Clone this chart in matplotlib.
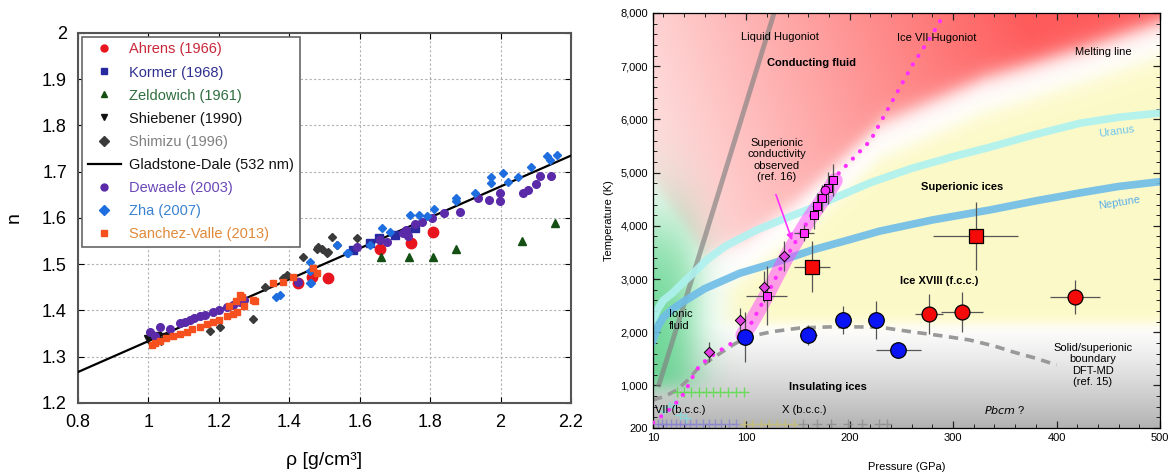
import numpy as np
import matplotlib.pyplot as plt
from matplotlib.lines import Line2D

plt.rcParams['font.family'] = ['Liberation Sans', 'DejaVu Sans']

# ---------------- left panel: refractive index vs density ----------------
ahrens_rho = [1.426, 1.464, 1.509, 1.658, 1.746, 1.807]
ahrens_n = [1.460, 1.472, 1.470, 1.534, 1.547, 1.570]

kormer_rho = [1.581, 1.630, 1.655, 1.700, 1.735, 1.757]
kormer_n = [1.530, 1.545, 1.556, 1.563, 1.570, 1.578]

zeld_rho = [1.660, 1.741, 1.807, 1.874, 2.060, 2.155]
zeld_n = [1.516, 1.516, 1.516, 1.534, 1.550, 1.590]

shieb_rho = [0.998, 1.023, 1.035, 1.047]
shieb_n = [1.338, 1.345, 1.335, 1.343]

shimizu_rho = [1.175, 1.203, 1.298, 1.331, 1.383, 1.393, 1.440, 1.478, 1.506,
               1.535, 1.482, 1.492, 1.511, 1.520, 1.593]
shimizu_n = [1.356, 1.364, 1.382, 1.450, 1.470, 1.477, 1.516, 1.532, 1.525,
             1.542, 1.538, 1.534, 1.527, 1.558, 1.556]

gd_rho = [0.8, 2.2]
gd_n = [1.267, 1.735]

dewaele_rho = [1.005, 1.020, 1.033, 1.060, 1.090, 1.105, 1.118, 1.130, 1.146, 1.160,
               1.184, 1.200, 1.222, 1.240, 1.260, 1.270, 1.426, 1.591, 1.658, 1.677,
               1.724, 1.738, 1.732, 1.757, 1.776, 1.804, 1.838, 1.885, 1.937, 1.968,
               1.997, 1.997, 2.063, 2.079, 2.100, 2.112, 2.142]
dewaele_n = [1.354, 1.345, 1.364, 1.360, 1.372, 1.375, 1.379, 1.383, 1.388, 1.390,
             1.397, 1.400, 1.407, 1.412, 1.419, 1.422, 1.462, 1.538, 1.552, 1.549,
             1.567, 1.560, 1.573, 1.588, 1.592, 1.599, 1.610, 1.614, 1.644, 1.639,
             1.655, 1.637, 1.653, 1.660, 1.674, 1.691, 1.691]

zha_rho = [1.362, 1.374, 1.459, 1.459, 1.461, 1.459, 1.535, 1.565, 1.568, 1.630,
           1.662, 1.686, 1.743, 1.767, 1.790, 1.811, 1.873, 1.873, 1.927, 1.972,
           1.972, 2.006, 2.022, 2.050, 2.086, 2.131, 2.159, 2.140]
zha_n = [1.430, 1.434, 1.486, 1.460, 1.459, 1.505, 1.542, 1.525, 1.524, 1.542,
         1.578, 1.570, 1.607, 1.607, 1.604, 1.619, 1.644, 1.636, 1.655, 1.689,
         1.675, 1.697, 1.678, 1.689, 1.711, 1.735, 1.736, 1.725]

sv_rho = [1.009, 1.020, 1.033, 1.050, 1.071, 1.090, 1.109, 1.125, 1.146, 1.165,
          1.184, 1.200, 1.222, 1.230, 1.240, 1.250, 1.251, 1.260, 1.265, 1.270,
          1.298, 1.303, 1.355, 1.383, 1.411, 1.468, 1.478]
sv_n = [1.325, 1.330, 1.333, 1.340, 1.345, 1.350, 1.354, 1.360, 1.365, 1.370,
        1.376, 1.380, 1.388, 1.410, 1.392, 1.420, 1.397, 1.434, 1.430, 1.410,
        1.423, 1.421, 1.459, 1.462, 1.473, 1.491, 1.480]

# ---------------- right panel: water phase diagram ----------------
blue_P = [99, 160, 193.5, 225, 247]
blue_T = [1911, 1950, 2230, 2230, 1666]
blue_Perr = [3, 8, 4, 4, 22]
blue_Terr = [470, 190, 270, 360, 90]

redc_P = [276.7, 308.5, 417.7]
redc_T = [2343, 2380, 2663]
redc_Perr = [14, 20, 24]
redc_Terr = [380, 380, 320]

reds_P = [163.6, 322]
reds_T = [3227, 3810]
reds_Perr = [17, 41]
reds_Terr = [480, 640]

msq_P = [119.8, 155.9, 165.6, 168, 173, 179.4, 183.6]
msq_T = [2687, 3872, 4199, 4374, 4518, 4706, 4862]
msq_Perr = [20, 10, 4, 4, 4, 4, 4]
msq_Terr = [560, 150, 250, 250, 250, 300, 300]

mdia_P = [64, 94, 117, 136.6]
mdia_T = [1630, 2230, 2856, 3434]
mdia_Terr = [190, 230, 290, 290]

mcirc_P = [176]
mcirc_T = [4674]

# Ice VII Hugoniot (dotted) and the measured thick band
hug7_P = [10, 20, 30, 40, 48, 55, 70, 85, 100, 120, 140, 160, 180, 200, 220, 240, 260, 280, 292]
hug7_T = [300, 450, 620, 850, 1150, 1380, 1600, 1780, 2000, 2700, 3450, 4100, 4800, 5200, 5600, 6300, 7000, 7600, 8000]
band_P = [97, 104, 112, 120, 130, 140, 150, 160, 170, 178, 186]
band_T = [1950, 2150, 2420, 2700, 3080, 3450, 3780, 4100, 4380, 4600, 4850]

liqhug_P = [15, 60, 127]
liqhug_T = [970, 3780, 8000]

uranus_P = [10, 15, 20, 29, 40, 50, 62, 80, 110, 135, 159, 190, 220, 260, 300, 336, 380, 423, 460, 500]
uranus_T = [2230, 2450, 2600, 2740, 2950, 3130, 3360, 3620, 3920, 4120, 4300, 4560, 4810, 5080,
            5300, 5480, 5720, 5930, 6040, 6120]
neptune_P = [10, 15, 20, 30, 39, 60, 94, 120, 136, 164, 200, 229, 280, 336, 380, 423, 460, 500]
neptune_T = [1850, 2120, 2280, 2450, 2570, 2820, 3110, 3260, 3360, 3546, 3740, 3900, 4110, 4300,
             4470, 4620, 4740, 4830]

dft_P = [10, 22, 33, 43, 52, 65, 87, 101, 125, 152, 180, 210, 229, 261, 290, 316, 340, 358, 380, 400]
dft_T = [726, 800, 914, 1090, 1290, 1478, 1760, 1911, 2010, 2080, 2100, 2100, 2095, 2005, 1930,
         1854, 1740, 1629, 1510, 1384]

melt_P = [10, 60, 100, 150, 200, 230, 330, 423, 500]
melt_T = [4500, 3100, 3400, 4150, 5050, 5600, 6450, 7000, 7500]
yedge_T = [2000, 2800, 3400, 4500, 6000, 8000]
yedge_P = [82, 82, 95, 130, 180, 240]

# low-pressure diffraction crosses
cross_purple_P = [15, 19, 23, 27, 32, 36, 41, 46, 52, 58, 64, 70, 76, 83, 90]
cross_yellow_P = [98, 106, 114, 122, 130, 138, 146]
cross_grey_P = [155, 168, 182, 198, 212, 228, 236]
cross_green_P = [33, 40, 47, 54, 61, 68, 75, 82, 90, 98]
cross_cyan_P = [20, 25, 30, 36, 42]
cross_cyan_T = [520, 600, 650, 450, 380]


def sig(x):
    return 1.0 / (1.0 + np.exp(-x))


def phase_background():
    PP, TT = np.meshgrid(np.linspace(10, 500, 600), np.linspace(200, 8000, 500))
    tm = np.interp(PP, melt_P, melt_T)
    img = np.ones(PP.shape + (3,))
    # insulating ices: white to grey towards the bottom
    g = np.clip((2150 - TT) / 1950, 0, 1) ** 1.2
    img *= (1 - 0.3 * g)[..., None]
    # superionic ices: light yellow
    wy = sig((tm - 330 - TT) / 110) * sig((TT - 2150) / 60) * sig((PP - np.interp(TT, yedge_T, yedge_P)) / 6)
    yellow = np.array([0.99, 0.98, 0.79])
    img = img * (1 - wy[..., None]) + yellow * wy[..., None]
    # conducting fluid: pink, deeper to the right
    s = np.clip(0.18 + 0.85 * (PP - 10) / 420 + 0.1 * (TT - 5000) / 3000, 0, 1)
    pink = np.stack([np.ones_like(s), 1 - 0.64 * s, 1 - 0.64 * s], -1)
    wp = sig((TT - tm - 330) / 110)
    img = img * (1 - wp[..., None]) + pink * wp[..., None]
    # ionic fluid: green at low pressure
    wg = 0.85 * sig((50 - PP) / 11) * sig((TT - 950) / 90) * sig((4000 - TT) / 500)
    green = np.array([0.33, 0.82, 0.52])
    img = img * (1 - wg[..., None]) + green * wg[..., None]
    return img


def draw_left(ax):
    ms = 5.5
    specs = [
        ('Ahrens (1966)', ahrens_rho, ahrens_n, 'o', '#e8141e', 7.5, '#c8283a'),
        ('Kormer (1968)', kormer_rho, kormer_n, 's', '#2a2aa0', ms, '#303090'),
        ('Zeldowich (1961)', zeld_rho, zeld_n, '^', '#145014', ms, '#2e6e3e'),
        ('Shiebener (1990)', shieb_rho, shieb_n, 'v', '#111111', ms, '#111111'),
        ('Shimizu (1996)', shimizu_rho, shimizu_n, 'D', '#3a3a3a', 4.5, '#808080'),
        ('Gladstone-Dale (532 nm)', None, None, None, '#000000', 0, '#111111'),
        ('Dewaele (2003)', dewaele_rho, dewaele_n, 'o', '#5a2aa8', ms, '#6a48b8'),
        ('Zha (2007)', zha_rho, zha_n, 'D', '#1e6ee0', 4.5, '#3a82d0'),
        ('Sanchez-Valle (2013)', sv_rho, sv_n, 's', '#f5501e', 4.5, '#e08a3a'),
    ]
    ax.plot(gd_rho, gd_n, color='black', lw=1.6, zorder=3)
    handles = []
    for label, x, y, mk, c, size, tc in specs:
        if mk is None:
            handles.append(Line2D([], [], color='black', lw=1.6))
            continue
        ax.plot(x, y, ls='none', marker=mk, color=c, markersize=size, zorder=4)
        handles.append(Line2D([], [], ls='none', marker=mk, color=c, markersize=5))
    ax.set_xlim(0.8, 2.2)
    ax.set_ylim(1.2, 2.0)
    ax.set_xticks([0.8, 1.0, 1.2, 1.4, 1.6, 1.8, 2.0, 2.2])
    ax.set_xticklabels(['0.8', '1', '1.2', '1.4', '1.6', '1.8', '2', '2.2'])
    ax.set_yticks([1.2, 1.3, 1.4, 1.5, 1.6, 1.7, 1.8, 1.9, 2.0])
    ax.set_yticklabels(['1.2', '1.3', '1.4', '1.5', '1.6', '1.7', '1.8', '1.9', '2'])
    ax.grid(True, color='#b0b0b0', ls=(0, (2, 2)), lw=0.8)
    ax.tick_params(direction='in', top=True, right=True, labelsize=13, length=4, pad=8)
    for sp in ax.spines.values():
        sp.set_color('#555555')
        sp.set_linewidth(1.5)
    ax.set_xlabel('ρ [g/cm³]', fontsize=14, labelpad=15)
    ax.set_ylabel('n', fontsize=14, labelpad=14)
    leg = ax.legend(handles, [s[0] for s in specs], loc='upper left', bbox_to_anchor=(0.0, 1.0),
                    fontsize=10.5, fancybox=False, edgecolor='#666666', framealpha=1,
                    handlelength=2.3, labelspacing=0.62, borderpad=0.4, handletextpad=0.55,
                    borderaxespad=0.25)
    leg.get_frame().set_linewidth(1.2)
    for t, s in zip(leg.get_texts(), specs):
        t.set_color(s[6])


def draw_right(ax):
    ax.imshow(phase_background(), extent=[10, 500, 200, 8000], origin='lower',
              aspect='auto', zorder=0, interpolation='bilinear')

    ax.plot(liqhug_P, liqhug_T, color='#808080', lw=3.5, alpha=0.65, zorder=2, solid_capstyle='butt')
    ax.plot(uranus_P, uranus_T, color='#aef2f0', lw=5.5, alpha=0.9, zorder=2)
    ax.plot(neptune_P, neptune_T, color='#6ebce8', lw=5.5, alpha=0.9, zorder=2)
    ax.plot(dft_P, dft_T, color='#999999', lw=2.6, ls=(0, (2.6, 1.8)), zorder=2)
    ax.plot(band_P, band_T, color='#ff44ff', lw=11, alpha=0.5, zorder=3, solid_capstyle='round')
    ax.plot(hug7_P, hug7_T, color='#ff30ff', lw=3, ls=(0, (0.05, 2.4)), dash_capstyle='round', zorder=3)

    ax.plot(cross_purple_P, [270] * len(cross_purple_P), ls='none', marker='+', ms=7, color='#8a84d4', alpha=0.8, zorder=2)
    ax.plot(cross_yellow_P, [270] * len(cross_yellow_P), ls='none', marker='+', ms=7, color='#c8c070', alpha=0.8, zorder=2)
    ax.plot(cross_grey_P, [270] * len(cross_grey_P), ls='none', marker='+', ms=7, color='#8c8c8c', alpha=0.8, zorder=2)
    ax.plot(cross_green_P, [870] * len(cross_green_P), ls='none', marker='+', ms=7, color='#55dd44', alpha=0.8, zorder=2)
    ax.plot(cross_cyan_P, cross_cyan_T, ls='none', marker='+', ms=7, color='#7ee0e0', alpha=0.8, zorder=2)

    eb = dict(ls='none', ecolor='#555555', elinewidth=0.9, zorder=4)
    ax.errorbar(blue_P, blue_T, xerr=blue_Perr, yerr=blue_Terr, **eb)
    ax.errorbar(redc_P, redc_T, xerr=redc_Perr, yerr=redc_Terr, **eb)
    ax.errorbar(reds_P, reds_T, xerr=reds_Perr, yerr=reds_Terr, **eb)
    ax.errorbar(msq_P, msq_T, xerr=msq_Perr, yerr=msq_Terr, **eb)
    ax.errorbar(mdia_P, mdia_T, yerr=mdia_Terr, **eb)

    ax.scatter(blue_P, blue_T, s=125, marker='o', color='#0a14f5', edgecolor='black', lw=0.9, zorder=5)
    ax.scatter(redc_P, redc_T, s=115, marker='o', color='#f50a0a', edgecolor='black', lw=0.9, zorder=5)
    ax.scatter(reds_P, reds_T, s=110, marker='s', color='#f50a0a', edgecolor='black', lw=0.9, zorder=5)
    ax.scatter(msq_P, msq_T, s=30, marker='s', color='#ff30ff', edgecolor='black', lw=0.7, zorder=5)
    ax.scatter(mdia_P, mdia_T, s=28, marker='D', color='#e040e0', edgecolor='black', lw=0.7, zorder=5)
    ax.scatter(mcirc_P, mcirc_T, s=40, marker='o', color='#ff30ff', edgecolor='black', lw=0.7, zorder=5)

    ax.annotate('', xy=(145.3, 3678), xytext=(127.9, 4637),
                arrowprops=dict(arrowstyle='-|>', color='#ff30ff', lw=1.2, mutation_scale=9), zorder=6)

    fs = 8
    ax.text(132.7, 7550, 'Liquid Hugoniot', fontsize=fs, ha='center', va='center')
    ax.text(163.6, 7062, 'Conducting fluid', fontsize=fs, ha='center', va='center', weight='bold')
    ax.text(284.4, 7532, 'Ice VII Hugoniot', fontsize=fs, ha='center', va='center')
    ax.text(444.8, 7269, 'Melting line', fontsize=fs, ha='center', va='center')
    ax.text(458, 5765, 'Uranus', fontsize=fs, ha='center', va='center', color='#70c6ee', rotation=8)
    ax.text(461, 4430, 'Neptune', fontsize=fs, ha='center', va='center', color='#5aaee6', rotation=9)
    ax.text(308.6, 4731, 'Superionic ices', fontsize=fs, ha='center', va='center', weight='bold')
    ax.text(129.8, 5238, 'Superionic\nconductivity\nobserved\n(ref. 16)', fontsize=fs,
            ha='center', va='center', linespacing=1.15)
    ax.text(287, 2964, 'Ice XVIII (f.c.c.)', fontsize=fs, ha='center', va='center', weight='bold')
    ax.text(25, 2230, 'Ionic\nfluid', fontsize=fs, ha='left', va='center', linespacing=1.15)
    ax.text(435, 1384, 'Solid/superionic\nboundary\nDFT-MD\n(ref. 15)', fontsize=fs,
            ha='center', va='center', linespacing=1.15)
    ax.text(179, 971, 'Insulating ices', fontsize=fs, ha='center', va='center', weight='bold')
    ax.text(12, 538, 'VII (b.c.c.)', fontsize=fs, ha='left', va='center')
    ax.text(156, 538, 'X (b.c.c.)', fontsize=fs, ha='center', va='center')
    ax.text(350, 538, r'$\it{Pbcm}$ ?', fontsize=fs, ha='center', va='center')

    ax.set_xlim(10, 500)
    ax.set_ylim(200, 8000)
    ax.set_xticks([10, 100, 200, 300, 400, 500])
    ax.set_xticks(np.arange(20, 500, 20), minor=True)
    yt = [200, 1000, 2000, 3000, 4000, 5000, 6000, 7000, 8000]
    ax.set_yticks(yt)
    ax.set_yticklabels(['200'] + ['{:,}'.format(v) for v in yt[1:]])
    ax.set_yticks(np.arange(400, 8000, 200), minor=True)
    ax.tick_params(which='both', direction='in', top=True, right=True, labelsize=8, color='#222222')
    ax.tick_params(which='major', length=5, width=0.9)
    ax.tick_params(which='minor', length=3, width=0.7)
    for sp in ax.spines.values():
        sp.set_linewidth(0.9)
    ax.set_xlabel('Pressure (GPa)', fontsize=8, labelpad=14)
    ax.set_ylabel('Temperature (K)', fontsize=8, labelpad=5)


def main():
    fig = plt.figure(figsize=(11.68, 4.72), dpi=100)
    ax1 = fig.add_axes([0.0668, 0.1462, 0.4221, 0.7839])
    ax2 = fig.add_axes([0.5591, 0.0932, 0.4341, 0.8793])
    draw_left(ax1)
    draw_right(ax2)
    fig.savefig('out.png', dpi=100)


if __name__ == '__main__':
    main()
